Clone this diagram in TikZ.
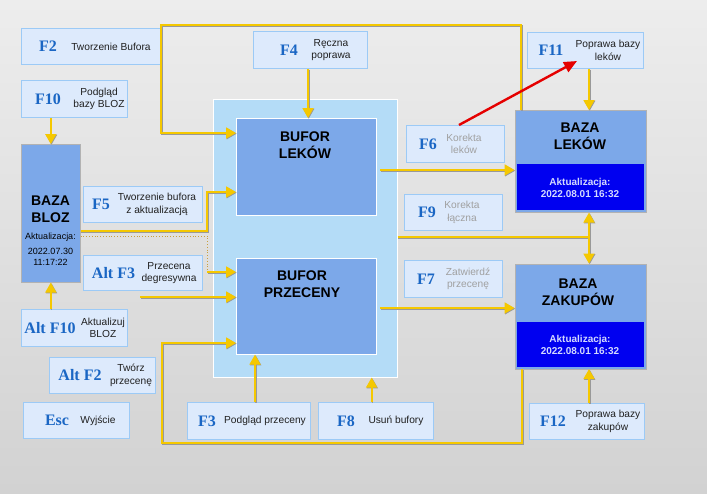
\documentclass[tikz,border=0pt]{standalone}
\usepackage{fontspec}
\setmainfont{Liberation Sans}
\newfontfamily\keyfont{Liberation Serif}
\usetikzlibrary{arrows.meta,calc}
\definecolor{bgtop}{HTML}{EDEDED}
\definecolor{bgbot}{HTML}{D2D2D2}
\definecolor{sfill}{HTML}{DDEAFC}
\definecolor{sdraw}{HTML}{9CCAF6}
\definecolor{panelc}{HTML}{B4DCF7}
\definecolor{boxc}{HTML}{7CA8E9}
\definecolor{darkc}{HTML}{0000F0}
\definecolor{ylw}{HTML}{F5C800}
\definecolor{keyc}{HTML}{1A66C4}
\definecolor{descc}{HTML}{202020}
\definecolor{greyd}{HTML}{A0A0A0}
\definecolor{updc}{HTML}{D4DAFF}
\definecolor{dotc}{HTML}{C8A040}
\tikzset{
  sbox/.style={anchor=north west, inner sep=0pt, fill=sfill, draw=sdraw, line width=0.8pt},
  keyt/.style={inner sep=0pt, text=keyc, font=\keyfont\bfseries\fontsize{16}{18}\selectfont},
  desct/.style={inner sep=0pt, text=descc, align=center, font=\fontsize{10.2}{12.5}\selectfont},
  bigt/.style={inner sep=0pt, align=center, text=black, font=\bfseries\fontsize{14}{17}\selectfont},
  updt/.style={inner sep=0pt, align=center, text=updc, font=\bfseries\fontsize{10}{11.5}\selectfont},
  conn/.style={draw=ylw, line width=1.8pt, -{Triangle[width=11pt,length=10pt]},
    preaction={draw=black!40, line width=1.6pt, transform canvas={shift={(0.7pt,-0.7pt)}}}},
  connplain/.style={draw=ylw, line width=1.8pt,
    preaction={draw=black!40, line width=1.6pt, transform canvas={shift={(0.7pt,-0.7pt)}}}},
  dotline/.style={draw=dotc, line width=0.8pt, dotted},
  redarrow/.style={draw=red!90!black, line width=2.4pt, -{Triangle[width=11pt,length=13pt]}},
}
\newcommand\kbox[9]{%
  \node[sbox, minimum width=#4pt, minimum height=#5pt] (#1) at (#2,#3) {};
  \node[keyt] (#1k) at ([xshift=#7pt]#1.west) {#6};
  \node[desct] (#1d) at ([xshift=#9pt]#1.west) {#8};
}
\begin{document}
\begin{tikzpicture}[x=1pt,y=-1pt]
\useasboundingbox (0,0) rectangle (707,493);
\shade[top color=bgtop, bottom color=bgbot] (0,0) rectangle (707,493);

% panel and buffers
\node[anchor=north west, inner sep=0pt, fill=panelc, draw=white, line width=0.6pt,
  minimum width=184pt, minimum height=278pt] (panel) at (213,99) {};
\node[anchor=north west, inner sep=0pt, fill=boxc, draw=white, line width=0.6pt,
  minimum width=140pt, minimum height=97pt] (bufl) at (236,118) {};
\node[anchor=north west, inner sep=0pt, fill=boxc, draw=white, line width=0.6pt,
  minimum width=140pt, minimum height=96pt] (bufp) at (236,258) {};
\node[bigt] (bufltxt) at (305,145) {BUFOR\\LEKÓW};
\node[bigt] (bufptxt) at (302,284) {BUFOR\\PRZECENY};

% BAZA BLOZ
\node[anchor=north west, inner sep=0pt, fill=boxc, draw=black!30, line width=0.6pt,
  minimum width=59pt, minimum height=138pt] (bloz) at (21,144) {};
\node[bigt] (bloztxt) at (50.5,209) {BAZA\\BLOZ};
\node[inner sep=0pt, font=\fontsize{9}{11}\selectfont] (blozu) at (50.5,237) {Aktualizacja:};
\node[inner sep=0pt, align=center, font=\fontsize{9}{11}\selectfont] (blozd) at (50.5,256.5) {2022.07.30\\11:17:22};

% BAZA LEKOW
\node[anchor=north west, inner sep=0pt, fill=boxc, draw=black!30, line width=0.6pt,
  minimum width=131pt, minimum height=102pt] (bazal) at (514.5,110) {};
\node[anchor=north west, inner sep=0pt, fill=darkc, minimum width=127pt, minimum height=46pt] (bazald) at (516.5,164) {};
\node[bigt] (bazaltxt) at (580,136) {BAZA\\LEKÓW};
\node[updt] (bazalu) at (580,188) {Aktualizacja:\\2022.08.01 16:32};

% BAZA ZAKUPOW
\node[anchor=north west, inner sep=0pt, fill=boxc, draw=black!30, line width=0.6pt,
  minimum width=131pt, minimum height=105pt] (bazaz) at (514.5,263.5) {};
\node[anchor=north west, inner sep=0pt, fill=darkc, minimum width=127pt, minimum height=45pt] (bazazd) at (516.5,322) {};
\node[bigt] (bazaztxt) at (578,292) {BAZA\\ZAKUPÓW};
\node[updt] (bazazu) at (580,345) {Aktualizacja:\\2022.08.01 16:32};

% key boxes
\kbox{f2}{21}{28}{139}{36}{F2}{27}{Tworzenie Bufora}{90}
\kbox{f10}{21}{80}{106}{37}{F10}{27}{Podgląd\\bazy BLOZ}{78}
\kbox{f5}{83}{186}{119}{36}{F5}{18}{Tworzenie bufora\\z aktualizacją}{74}
\kbox{altf3}{83}{255}{119}{35}{Alt F3}{30.5}{Przecena\\degresywna}{86}
\kbox{altf10}{21}{309}{106}{37}{Alt F10}{29}{Aktualizuj\\BLOZ}{82}
\kbox{altf2}{49}{357}{106}{36}{Alt F2}{31}{Twórz\\przecenę}{82}
\kbox{esc}{23}{402}{106}{36}{Esc}{34}{Wyjście}{75}
\kbox{f3}{187}{402}{123}{37}{F3}{20}{Podgląd przeceny}{78}
\kbox{f8}{318}{402}{115}{37}{F8}{28}{Usuń bufory}{78}
\kbox{f4}{253}{31}{114}{37}{F4}{36}{Ręczna\\poprawa}{78}
\kbox{f6}{406}{125}{98}{37}{F6}{22}{\color{greyd}Korekta\\\color{greyd}leków}{58}
\kbox{f9}{404}{194}{98}{36}{F9}{23}{\color{greyd}Korekta\\\color{greyd}łączna}{58}
\kbox{f7}{404}{260}{98}{37}{F7}{22}{\color{greyd}Zatwierdź\\\color{greyd}przecenę}{64}
\kbox{f11}{527}{32}{116}{36}{F11}{24}{Poprawa bazy\\leków}{81}
\kbox{f12}{529}{403}{115}{36}{F12}{24}{Poprawa bazy\\zakupów}{79}

% helper coordinates
\coordinate (c1) at (161,25);
\coordinate (c3) at (207,192);
\coordinate (c4) at (207,272);
\coordinate (c5) at (140,297);
\coordinate (c6) at (162,443);
\coordinate (c7) at ([xshift=19pt]bufp.south west);
\coordinate (c8) at ([xshift=-26pt]panel.south east);
\coordinate (c9) at (380,170);
\coordinate (c9b) at (380,308);
\coordinate (c11) at (589,237);
\coordinate (r1) at ([xshift=53pt]f6.north west);
\coordinate (r2) at (577,61);

% connectors
\draw[conn] ([xshift=6.5pt]bazal.north west) |- (c1) |- ([yshift=-15pt]bufl.north west);
\draw[conn] (f4.south -| 308,0) -- (bufl.north -| 308,0);
\draw[conn] (f10.south -| bloz.north) -- (bloz.north);
\draw[conn] ([yshift=-87pt]bloz.north east) -| (c3) -- (c3 -| bufl.west);
\draw[dotline] ([yshift=-92pt]bloz.north east) -| (c4);
\draw[conn] (c4) -- (c4 -| bufp.west);
\draw[conn] (c5) -- (c5 -| bufp.west);
\draw[conn] ([xshift=7.5pt]bazaz.south west) |- (c6) |- ([yshift=-85pt]bufp.north west);
\draw[conn] (altf10.north -| bloz.south) -- (bloz.south);
\draw[conn] (c7 |- f3.north) -- (c7);
\draw[conn] (c8 |- f8.north) -- (c8);
\draw[conn] (c9) -- (c9 -| bazal.west);
\draw[conn] (c9b) -- (c9b -| bazaz.west);
\draw[connplain] (c11 -| panel.east) -- (c11);
\draw[conn] (c11) -- (c11 |- bazal.south);
\draw[conn] (c11) -- (c11 |- bazaz.north);
\draw[conn] (c11 |- f11.south) -- (c11 |- bazal.north);
\draw[conn] (c11 |- f12.north) -- (c11 |- bazaz.south);
\draw[redarrow] (r1) -- (r2);
\end{tikzpicture}
\end{document}
